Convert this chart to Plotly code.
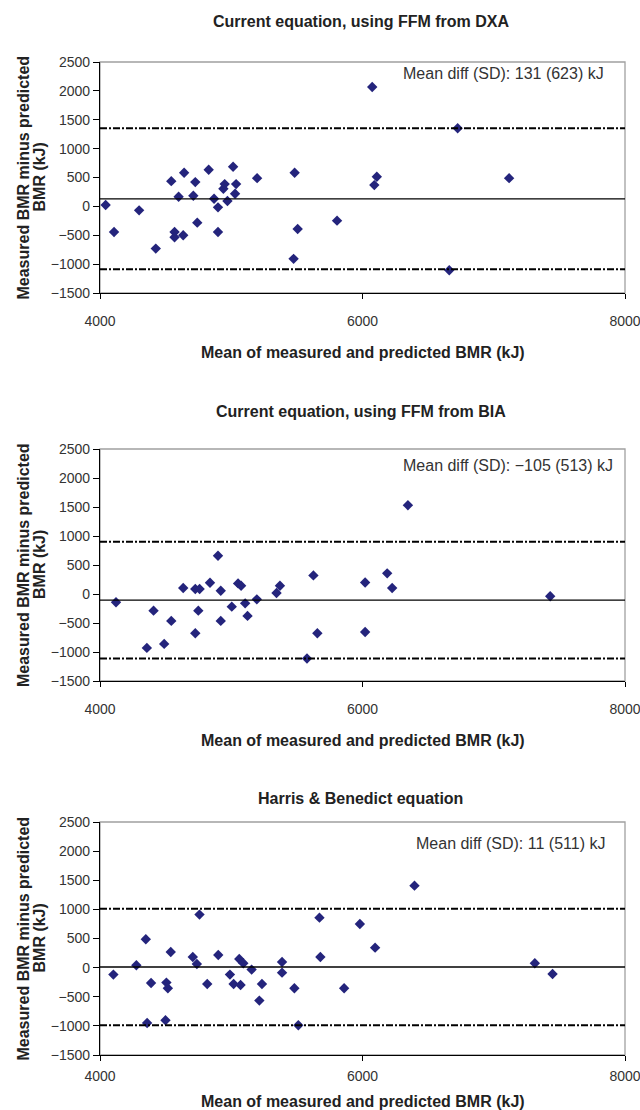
import plotly.graph_objects as go

W, H = 640, 1110

# ---------------- data ----------------
titles = ["Current equation, using FFM from DXA",
          "Current equation, using FFM from BIA",
          "Harris & Benedict equation"]
mean_diff = [131, -105, 11]
sd_diff = [623, 513, 511]
notes = ["Mean diff (SD): 131 (623) kJ",
         "Mean diff (SD): \u2212105 (513) kJ",
         "Mean diff (SD): 11 (511) kJ"]
x_title = "Mean of measured and predicted BMR (kJ)"
y_title_1 = "Measured BMR minus predicted"
y_title_2 = "BMR (kJ)"
x_ticks = [4000, 6000, 8000]
y_ticks = [-1500, -1000, -500, 0, 500, 1000, 1500, 2000, 2500]

dxa_x = [4043, 4107, 4298, 4425, 4543, 4568, 4568, 4599, 4634, 4641, 4711, 4726,
         4741, 4828, 4869, 4899, 4899, 4940, 4950, 4971, 5014, 5029, 5037, 5197,
         5483, 5475, 5506, 5806, 6074, 6109, 6090, 6725, 6661, 7117]
dxa_y = [23, -443, -69, -731, 437, -443, -535, 167, -501, 581, 184, 420,
         -282, 633, 132, -17, -443, 305, 386, 92, 685, 219, 386, 489,
         581, -909, -391, -247, 2066, 512, 368, 1352, -1105, 489]

bia_x = [4122, 4357, 4408, 4489, 4543, 4634, 4726, 4759, 4726, 4749, 4838, 4899,
         4920, 4920, 5004, 5052, 5075, 5106, 5124, 5195, 5345, 5371, 5577, 5626,
         5656, 6020, 6020, 6188, 6226, 6346, 7430]
bia_y = [-143, -929, -287, -860, -464, 103, 86, 86, -677, -287, 195, 659,
         57, -464, -218, 183, 143, -161, -378, -92, 17, 143, -1112, 321,
         -677, 198, -654, 356, 103, 1531, -40]

hb_x = [4102, 4277, 4349, 4359, 4389, 4499, 4506, 4517, 4539, 4707, 4738, 4758,
        4817, 4901, 4990, 5018, 5061, 5071, 5092, 5155, 5214, 5234, 5387, 5387,
        5481, 5511, 5672, 5679, 5860, 5980, 6096, 6396, 7313, 7448]
hb_y = [-120, 40, 486, -950, -263, -904, -257, -355, 269, 183, 63, 910,
        -280, 217, -120, -280, 149, -297, 74, -34, -566, -280, 97, -86,
        -355, -990, 858, 183, -355, 749, 343, 1407, 74, -109]

series_x = [dxa_x, bia_x, hb_x]
series_y = [dxa_y, bia_y, hb_y]

# ---------------- layout (page pixels) ----------------
plot_left, plot_right = 100, 625
panel_top = [62, 449, 822]
panel_bottom = [293, 681, 1055]
title_y = [21, 411, 798]
xtitle_y = [352, 740, 1101]
label_standoff = [10, 10, 3]
note_dy = [12, 17, 21]
note_right = [606, 615, 607]

FONT = "Liberation Sans, Arial, sans-serif"
NAVY = "#24247c"

def py(p):
    return 1 - p / H

def px(p):
    return p / W

fig = go.Figure()
annotations = []
shapes = []

for i in range(3):
    n = "" if i == 0 else str(i + 1)
    xa = "x" + n
    ya = "y" + n
    fig.add_trace(go.Scatter(
        x=series_x[i], y=series_y[i], mode="markers",
        marker=dict(symbol="diamond", size=8, color=NAVY, line=dict(width=0)),
        xaxis=xa, yaxis=ya, showlegend=False, hoverinfo="x+y", cliponaxis=False))

    axis_common = dict(showgrid=False, zeroline=False, showline=True,
                       linecolor="black", linewidth=1.3, ticks="outside",
                       tickcolor="black", tickwidth=1.2, automargin=False,
                       ticklabeloverflow="allow",
                       tickfont=dict(family=FONT, size=14, color="#333333"))
    fig.update_layout(**{
        "xaxis" + n: dict(axis_common, domain=[px(plot_left), px(plot_right)],
                          range=[4000, 8000], tickvals=x_ticks, ticklen=5,
                          ticklabelstandoff=label_standoff[i], anchor=ya),
        "yaxis" + n: dict(axis_common, domain=[py(panel_bottom[i]), py(panel_top[i])],
                          range=[-1500, 2500], tickvals=y_ticks, ticklen=6,
                          anchor=xa),
    })

    xd = xa + " domain"
    yd = ya + " domain"
    shapes.append(dict(type="rect", xref=xd, yref=yd, x0=0, x1=1, y0=0, y1=1,
                       line=dict(color="#a0a0a0", width=1.3), layer="below"))
    shapes.append(dict(type="line", xref=xd, yref=ya, x0=0, x1=1,
                       y0=mean_diff[i], y1=mean_diff[i],
                       line=dict(color="black", width=1.3)))
    for s in (1, -1):
        loa = mean_diff[i] + s * 1.96 * sd_diff[i]
        shapes.append(dict(type="line", xref=xd, yref=ya, x0=0, x1=1,
                           y0=loa, y1=loa,
                           line=dict(color="black", width=2, dash="7px,2px,2px,2px")))

    annotations.append(dict(text="<b>%s</b>" % titles[i], xref="paper", yref="paper",
                            x=px((plot_left + plot_right) / 2 - 2), y=py(title_y[i]),
                            xanchor="center", yanchor="middle", showarrow=False,
                            font=dict(family=FONT, size=16, color="#222222")))
    annotations.append(dict(text="<b>%s</b>" % x_title, xref="paper", yref="paper",
                            x=px((plot_left + plot_right) / 2), y=py(xtitle_y[i]),
                            xanchor="center", yanchor="middle", showarrow=False,
                            font=dict(family=FONT, size=16, color="#222222")))
    annotations.append(dict(text=notes[i], xref="paper", yref="paper",
                            x=px(note_right[i]), y=py(panel_top[i] + note_dy[i]),
                            xanchor="right", yanchor="middle", showarrow=False,
                            font=dict(family=FONT, size=16, color="#333333")))
    ymid = (panel_top[i] + panel_bottom[i]) / 2
    annotations.append(dict(text="<b>%s</b>" % y_title_1, xref="paper", yref="paper",
                            x=px(23), y=py(ymid), textangle=-90,
                            xanchor="center", yanchor="middle", showarrow=False,
                            font=dict(family=FONT, size=16, color="#222222")))
    annotations.append(dict(text="<b>%s</b>" % y_title_2, xref="paper", yref="paper",
                            x=px(39), y=py(ymid), textangle=-90,
                            xanchor="center", yanchor="middle", showarrow=False,
                            font=dict(family=FONT, size=16, color="#222222")))

fig.update_layout(width=W, height=H, margin=dict(l=0, r=0, t=0, b=0),
                  paper_bgcolor="white", plot_bgcolor="white",
                  shapes=shapes, annotations=annotations,
                  font=dict(family=FONT), hovermode=False)

# remove the default page margin so the figure fills the 640x1110 window exactly
fig.write_html("out.html",
               config={"displayModeBar": False},
               post_script="document.body.style.margin='0';"
                           "document.body.style.overflow='hidden';")
